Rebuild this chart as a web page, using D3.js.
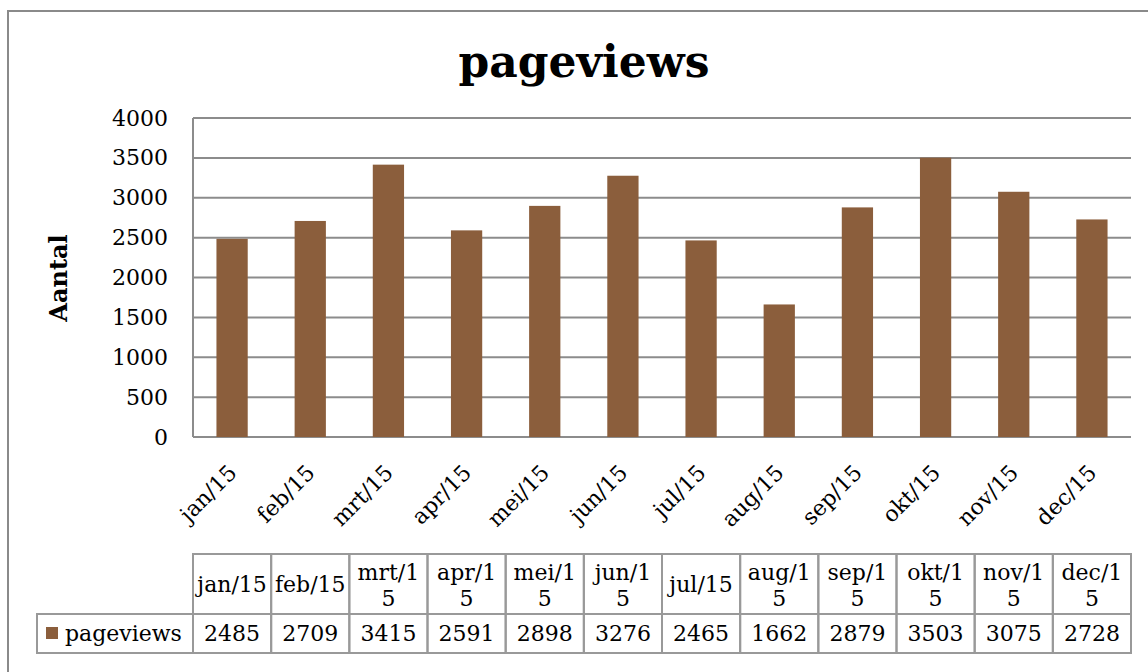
<!DOCTYPE html>
<html>
<head>
<meta charset="utf-8">
<script src="https://cdn.jsdelivr.net/npm/d3@7"></script>
<style>
  body { margin: 0; background: #ffffff; }
  svg text { font-family: "DejaVu Serif", Georgia, serif; fill: #000; }
</style>
</head>
<body>
<svg id="chart" width="1148" height="672"></svg>
<script>
// data
var months = ["jan/15", "feb/15", "mrt/15", "apr/15", "mei/15", "jun/15", "jul/15", "aug/15", "sep/15", "okt/15", "nov/15", "dec/15"];
var pageviews = [2485, 2709, 3415, 2591, 2898, 3276, 2465, 1662, 2879, 3503, 3075, 2728];
var yTicks = [0, 500, 1000, 1500, 2000, 2500, 3000, 3500, 4000];
// header cells of the data table, wrapped the way the original wraps them
var tableHeaders = [["jan/15"], ["feb/15"], ["mrt/1", "5"], ["apr/1", "5"], ["mei/1", "5"], ["jun/1", "5"],
                    ["jul/15"], ["aug/1", "5"], ["sep/1", "5"], ["okt/1", "5"], ["nov/1", "5"], ["dec/1", "5"]];
var seriesName = "pageviews";

var barColor = "#8b5e3c";
var gridColor = "#8c8c8c";
var fontFam = "'DejaVu Serif', Georgia, serif";
var fs = "22px";

var svg = d3.select("#chart");

// outer chart border (runs off the right and bottom of the picture)
svg.append("rect")
    .attr("x", 8).attr("y", 11)
    .attr("width", 1160).attr("height", 680)
    .attr("fill", "none")
    .attr("stroke", "#8a8a8a")
    .attr("stroke-width", 2);

var plot = { left: 193, right: 1131, top: 118, bottom: 437 };

var x = d3.scaleBand()
    .domain(months)
    .range([plot.left, plot.right])
    .paddingInner(0.6)
    .paddingOuter(0.3);

var xCol = d3.scaleBand()
    .domain(months)
    .range([plot.left, plot.right]);

var y = d3.scaleLinear()
    .domain([0, 4000])
    .range([plot.bottom, plot.top]);

// gridlines
svg.append("g")
    .selectAll("line")
    .data(yTicks)
    .join("line")
    .attr("x1", plot.left).attr("x2", plot.right)
    .attr("y1", function(d) { return y(d); })
    .attr("y2", function(d) { return y(d); })
    .attr("stroke", gridColor)
    .attr("stroke-width", 2);

// left axis line
svg.append("line")
    .attr("x1", plot.left).attr("x2", plot.left)
    .attr("y1", plot.top).attr("y2", plot.bottom)
    .attr("stroke", gridColor)
    .attr("stroke-width", 2);

// bars
svg.append("g")
    .selectAll("rect")
    .data(pageviews)
    .join("rect")
    .attr("x", function(d, i) { return x(months[i]); })
    .attr("y", function(d) { return y(d); })
    .attr("width", x.bandwidth())
    .attr("height", function(d) { return y(0) - y(d); })
    .attr("fill", barColor);

// y axis labels
var yAxis = d3.axisLeft(y).tickValues(yTicks).tickFormat(d3.format("d")).tickSize(0).tickPadding(25);
var yg = svg.append("g")
    .attr("transform", "translate(" + plot.left + ",0)")
    .call(yAxis);
yg.select(".domain").remove();
yg.selectAll("text")
    .style("font-family", fontFam)
    .style("font-size", fs);

// x axis labels, rotated
var xAxis = d3.axisBottom(xCol).tickSize(0).tickPadding(0);
var xg = svg.append("g")
    .attr("transform", "translate(0," + plot.bottom + ")")
    .call(xAxis);
xg.select(".domain").remove();
xg.selectAll("text")
    .style("font-family", fontFam)
    .style("font-size", fs)
    .attr("text-anchor", "end")
    .attr("dy", 0)
    .attr("transform", "translate(6,37) rotate(-45)");

// title
svg.append("text")
    .attr("x", 584).attr("y", 77)
    .attr("text-anchor", "middle")
    .style("font-size", "44px")
    .style("font-weight", "bold")
    .text("pageviews");

// y axis title
svg.append("text")
    .attr("transform", "translate(67,278) rotate(-90)")
    .attr("text-anchor", "middle")
    .style("font-size", "24px")
    .style("font-weight", "bold")
    .text("Aantal");

// data table
var tbl = { top: 554, mid: 614, bottom: 653, legendLeft: 37 };
var tg = svg.append("g");
var borderColor = "#999999";

// header cells
tg.selectAll("rect.head")
    .data(months)
    .join("rect")
    .attr("class", "head")
    .attr("x", function(d) { return xCol(d); })
    .attr("y", tbl.top)
    .attr("width", xCol.bandwidth())
    .attr("height", tbl.mid - tbl.top)
    .attr("fill", "none")
    .attr("stroke", borderColor)
    .attr("stroke-width", 2);

// value cells
tg.selectAll("rect.val")
    .data(months)
    .join("rect")
    .attr("class", "val")
    .attr("x", function(d) { return xCol(d); })
    .attr("y", tbl.mid)
    .attr("width", xCol.bandwidth())
    .attr("height", tbl.bottom - tbl.mid)
    .attr("fill", "none")
    .attr("stroke", borderColor)
    .attr("stroke-width", 2);

// legend cell
tg.append("rect")
    .attr("x", tbl.legendLeft).attr("y", tbl.mid)
    .attr("width", plot.left - tbl.legendLeft)
    .attr("height", tbl.bottom - tbl.mid)
    .attr("fill", "none")
    .attr("stroke", borderColor)
    .attr("stroke-width", 2);

tg.append("rect")
    .attr("x", 46).attr("y", 627)
    .attr("width", 12).attr("height", 12)
    .attr("fill", barColor);

tg.append("text")
    .attr("x", 65).attr("y", 641)
    .style("font-size", fs)
    .text(seriesName);

// header text
tg.selectAll("text.head")
    .data(tableHeaders)
    .join("text")
    .attr("class", "head")
    .attr("text-anchor", "middle")
    .style("font-size", fs)
    .attr("x", function(d, i) { return xCol(months[i]) + xCol.bandwidth() / 2; })
    .attr("y", function(d) { return d.length > 1 ? 580 : 592; })
    .selectAll("tspan")
    .data(function(d) { return d; })
    .join("tspan")
    .attr("x", function() { return d3.select(this.parentNode).attr("x"); })
    .attr("dy", function(d, i) { return i === 0 ? 0 : 26; })
    .text(function(d) { return d; });

// value text
tg.selectAll("text.val")
    .data(pageviews)
    .join("text")
    .attr("class", "val")
    .attr("text-anchor", "middle")
    .style("font-size", fs)
    .attr("x", function(d, i) { return xCol(months[i]) + xCol.bandwidth() / 2; })
    .attr("y", 641)
    .text(function(d) { return d; });
</script>
</body>
</html>
